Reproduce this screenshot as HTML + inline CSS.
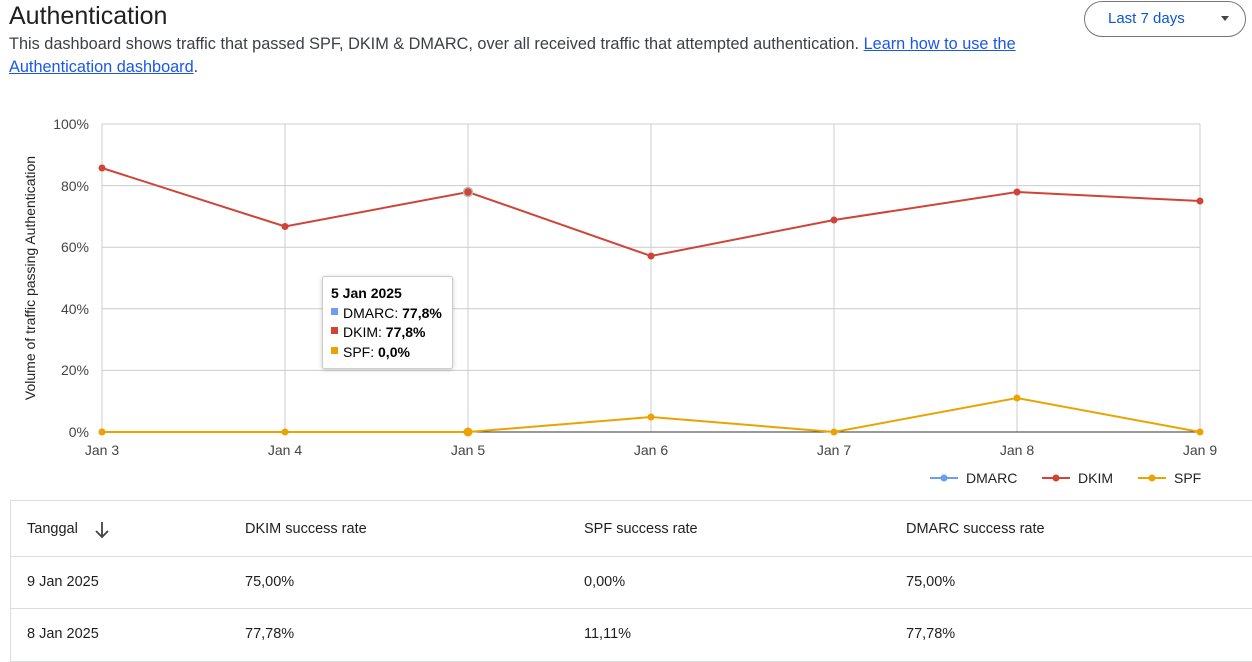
<!DOCTYPE html>
<html><head><meta charset="utf-8"><style>
body{margin:0;width:1252px;height:649px;overflow:hidden;background:#fff;font-family:"Liberation Sans",sans-serif;color:#1f1f1f;position:relative}
.t{position:absolute;white-space:nowrap}
a{color:#1a57e8;text-decoration:underline}
.tbl{position:absolute;left:10px;top:500px;width:1250px;height:160px;border:1px solid #dadce0;border-right:none}
.row{position:absolute;left:0;width:100%;border-top:1px solid #dadce0}
.c{position:absolute;font-size:14.5px;color:#1f1f1f}
</style></head><body>
<div class="t" style="left:9px;top:2px;font-size:25px;color:#1f1f1f">Authentication</div>
<div class="t" style="left:9px;top:35px;font-size:16.3px;color:#3c4043">This dashboard shows traffic that passed SPF, DKIM &amp; DMARC, over all received traffic that attempted authentication. <a>Learn how to use the</a></div>
<div class="t" style="left:9px;top:58px;font-size:16.3px;color:#3c4043"><a>Authentication dashboard</a>.</div>
<div style="position:absolute;left:1084px;top:1px;width:162px;height:36px;border:1px solid #747775;border-radius:18px;box-sizing:border-box"></div>
<div class="t" style="left:1108px;top:10px;font-size:15px;color:#0b57d0">Last 7 days</div>
<div class="t" style="left:1221px;top:16px;width:0;height:0;border-left:4px solid transparent;border-right:4px solid transparent;border-top:5px solid #444"></div>
<svg width="1252" height="500" style="position:absolute;left:0;top:0" font-family="Liberation Sans, sans-serif">
<g stroke="#cccccc" stroke-width="1">
<line x1="102" y1="124" x2="1200" y2="124"/><line x1="102" y1="185.6" x2="1200" y2="185.6"/><line x1="102" y1="247.2" x2="1200" y2="247.2"/><line x1="102" y1="308.8" x2="1200" y2="308.8"/><line x1="102" y1="370.4" x2="1200" y2="370.4"/>
<line x1="102" y1="124" x2="102" y2="432"/><line x1="285" y1="124" x2="285" y2="432"/><line x1="468" y1="124" x2="468" y2="432"/><line x1="651" y1="124" x2="651" y2="432"/><line x1="834" y1="124" x2="834" y2="432"/><line x1="1017" y1="124" x2="1017" y2="432"/><line x1="1200" y1="124" x2="1200" y2="432"/>
</g>
<line x1="102" y1="432" x2="1200" y2="432" stroke="#333"/>
<g font-size="14" fill="#444" text-anchor="end">
<text x="89" y="129">100%</text><text x="89" y="191">80%</text><text x="89" y="252">60%</text><text x="89" y="314">40%</text><text x="89" y="375">20%</text><text x="89" y="437">0%</text></g>
<g font-size="14" fill="#444" text-anchor="middle">
<text x="102" y="455">Jan 3</text><text x="285" y="455">Jan 4</text><text x="468" y="455">Jan 5</text><text x="651" y="455">Jan 6</text><text x="834" y="455">Jan 7</text><text x="1017" y="455">Jan 8</text><text x="1200" y="455">Jan 9</text></g>
<text transform="translate(35,278) rotate(-90)" font-size="14" fill="#222" text-anchor="middle">Volume of traffic passing Authentication</text>
<polyline fill="none" stroke="#eaa300" stroke-width="2" points="102,432 285,432 468,432 651,417 834,432 1017,398 1200,432"/>
<g fill="#eaa300"><circle cx="102" cy="432" r="3.5"/><circle cx="285" cy="432" r="3.5"/><circle cx="468" cy="432" r="4.5"/><circle cx="651" cy="417" r="3.5"/><circle cx="834" cy="432" r="3.5"/><circle cx="1017" cy="398" r="3.5"/><circle cx="1200" cy="432" r="3.5"/></g>
<polyline fill="none" stroke="#d04437" stroke-width="2" points="102,168 285,226.5 468,192 651,256 834,220 1017,192 1200,201"/>
<g fill="#d04437"><circle cx="102" cy="168" r="3.5"/><circle cx="285" cy="226.5" r="3.5"/><circle cx="468" cy="192" r="4.5" stroke="#bbb" stroke-width="1.5"/><circle cx="651" cy="256" r="3.5"/><circle cx="834" cy="220" r="3.5"/><circle cx="1017" cy="192" r="3.5"/><circle cx="1200" cy="201" r="3.5"/></g>
<g font-size="14" fill="#222">
<line x1="930" y1="478" x2="958" y2="478" stroke="#6f9cf0" stroke-width="2"/><circle cx="944" cy="478" r="3.5" fill="#6f9cf0"/><text x="966" y="483">DMARC</text>
<line x1="1042" y1="478" x2="1070" y2="478" stroke="#d04437" stroke-width="2"/><circle cx="1056" cy="478" r="3.5" fill="#d04437"/><text x="1078" y="483">DKIM</text>
<line x1="1138" y1="478" x2="1166" y2="478" stroke="#eaa300" stroke-width="2"/><circle cx="1152" cy="478" r="3.5" fill="#eaa300"/><text x="1174" y="483">SPF</text></g>
<rect x="322.5" y="276.5" width="130" height="92" fill="#fff" stroke="#ccc" rx="2" style="filter:drop-shadow(0 1px 2px rgba(0,0,0,.2))"/>
<g font-size="14" fill="#000">
<text x="331" y="298" font-weight="bold">5 Jan 2025</text>
<rect x="331" y="308" width="7" height="7" fill="#6f9cf0"/><text x="343" y="318">DMARC: <tspan font-weight="bold">77,8%</tspan></text>
<rect x="331" y="327" width="7" height="7" fill="#d04437"/><text x="343" y="337">DKIM: <tspan font-weight="bold">77,8%</tspan></text>
<rect x="331" y="347" width="7" height="7" fill="#eaa300"/><text x="343" y="357">SPF: <tspan font-weight="bold">0,0%</tspan></text></g>
</svg>
<div class="tbl">
<div class="c" style="left:16px;top:20px">Tanggal</div>
<svg style="position:absolute;left:83px;top:20px" width="16" height="18"><path d="M8 1V16M2 10L8 16L14 10" fill="none" stroke="#444" stroke-width="1.8"/></svg>
<div class="c" style="left:234px;top:20px">DKIM success rate</div>
<div class="c" style="left:573px;top:20px">SPF success rate</div>
<div class="c" style="left:895px;top:20px">DMARC success rate</div>
<div class="row" style="top:55px;height:52px">
<div class="c" style="left:16px;top:17px">9 Jan 2025</div><div class="c" style="left:234px;top:17px">75,00%</div><div class="c" style="left:573px;top:17px">0,00%</div><div class="c" style="left:895px;top:17px">75,00%</div></div>
<div class="row" style="top:107px;height:52px">
<div class="c" style="left:16px;top:17px">8 Jan 2025</div><div class="c" style="left:234px;top:17px">77,78%</div><div class="c" style="left:573px;top:17px">11,11%</div><div class="c" style="left:895px;top:17px">77,78%</div></div>
</div>
</body></html>
